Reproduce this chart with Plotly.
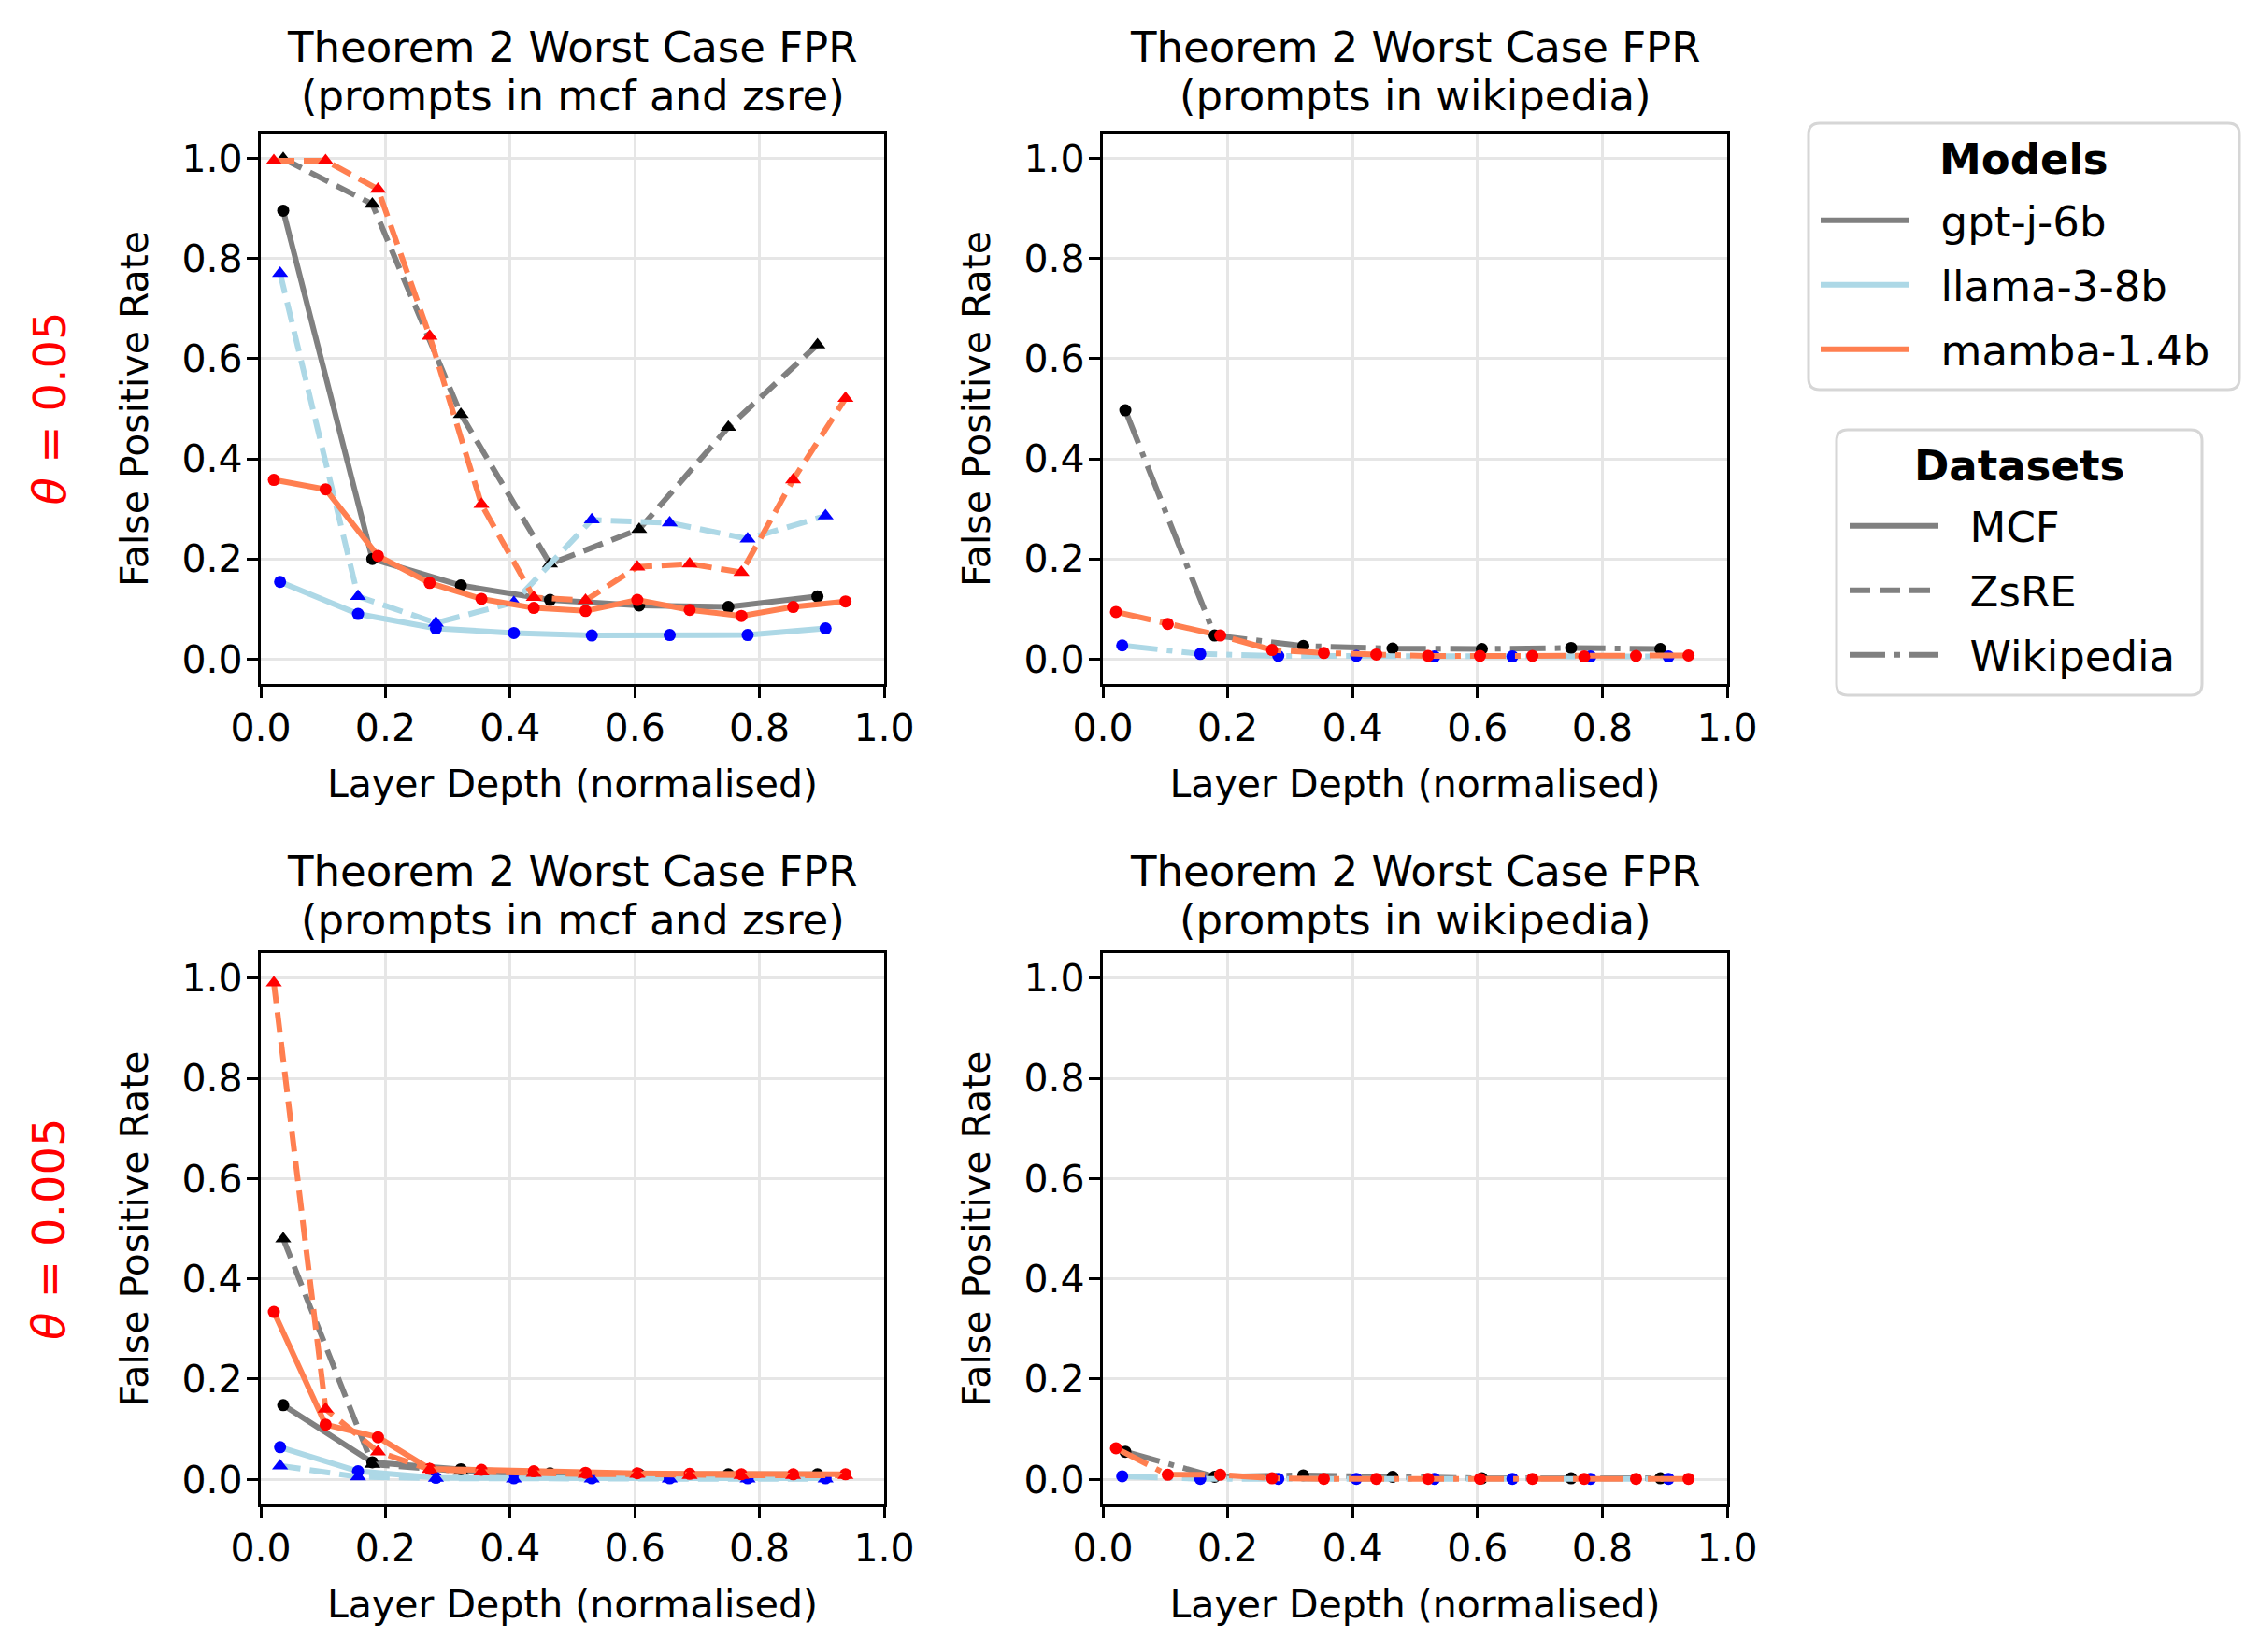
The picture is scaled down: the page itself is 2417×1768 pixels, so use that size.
import plotly.graph_objects as go

# ---------------- data ----------------
gptj_x = [0.036, 0.179, 0.321, 0.464, 0.607, 0.750, 0.893]
llama_x = [0.031, 0.156, 0.281, 0.406, 0.531, 0.656, 0.781, 0.906]
mamba_x = [0.021, 0.104, 0.188, 0.271, 0.354, 0.438, 0.521, 0.604, 0.688, 0.771, 0.854, 0.938]

# theta = 0.05
gptj_mcf_05 = [0.896, 0.200, 0.147, 0.118, 0.107, 0.104, 0.125]
gptj_zsre_05 = [1.000, 0.909, 0.489, 0.190, 0.259, 0.463, 0.628]
gptj_wiki_05 = [0.497, 0.047, 0.026, 0.021, 0.020, 0.022, 0.020]
llama_mcf_05 = [0.154, 0.090, 0.061, 0.052, 0.047, 0.048, 0.048, 0.061]
llama_zsre_05 = [0.771, 0.125, 0.072, 0.113, 0.278, 0.272, 0.240, 0.286]
llama_wiki_05 = [0.027, 0.010, 0.006, 0.006, 0.005, 0.005, 0.005, 0.005]
mamba_mcf_05 = [0.358, 0.339, 0.206, 0.152, 0.120, 0.102, 0.096, 0.118, 0.098, 0.086, 0.104, 0.115]
mamba_zsre_05 = [0.996, 0.996, 0.939, 0.645, 0.309, 0.123, 0.117, 0.184, 0.190, 0.173, 0.358, 0.521]
mamba_wiki_05 = [0.094, 0.070, 0.047, 0.018, 0.012, 0.009, 0.006, 0.006, 0.006, 0.005, 0.006, 0.007]

# theta = 0.005
gptj_mcf_005 = [0.148, 0.034, 0.020, 0.012, 0.010, 0.010, 0.010]
gptj_zsre_005 = [0.480, 0.030, 0.016, 0.010, 0.008, 0.006, 0.006]
gptj_wiki_005 = [0.055, 0.005, 0.008, 0.005, 0.002, 0.002, 0.002]
llama_mcf_005 = [0.064, 0.016, 0.003, 0.002, 0.002, 0.002, 0.002, 0.002]
llama_zsre_005 = [0.027, 0.005, 0.002, 0.001, 0.001, 0.001, 0.001, 0.001]
llama_wiki_005 = [0.006, 0.001, 0.001, 0.001, 0.001, 0.001, 0.001, 0.001]
mamba_mcf_005 = [0.334, 0.109, 0.084, 0.021, 0.019, 0.016, 0.013, 0.012, 0.011, 0.010, 0.010, 0.010]
mamba_zsre_005 = [0.991, 0.140, 0.055, 0.020, 0.015, 0.012, 0.010, 0.010, 0.008, 0.008, 0.008, 0.008]
mamba_wiki_005 = [0.062, 0.009, 0.009, 0.002, 0.001, 0.001, 0.001, 0.001, 0.001, 0.001, 0.001, 0.001]

models = ["gpt-j-6b", "llama-3-8b", "mamba-1.4b"]
datasets = ["MCF", "ZsRE", "Wikipedia"]
tick_vals = [0.0, 0.2, 0.4, 0.6, 0.8, 1.0]
tick_text = ["0.0", "0.2", "0.4", "0.6", "0.8", "1.0"]
thetas = ["0.05", "0.005"]
title_line1 = "Theorem 2 Worst Case FPR"
title_left = "(prompts in mcf and zsre)"
title_right = "(prompts in wikipedia)"
x_label = "Layer Depth (normalised)"
y_label = "False Positive Rate"
legend_titles = ["Models", "Datasets"]

# ---------------- styles ----------------
W, H = 2417, 1768
OFF = 8  # page body margin compensation
FONT = "DejaVu Sans"
line_col = {"gpt-j-6b": "#808080", "llama-3-8b": "#ADD8E6", "mamba-1.4b": "#FF7F50"}
mark_col = {"gpt-j-6b": "#000000", "llama-3-8b": "#0000FF", "mamba-1.4b": "#FF0000"}
xs = {"gpt-j-6b": gptj_x, "llama-3-8b": llama_x, "mamba-1.4b": mamba_x}
LW = 6
dash_of = {"MCF": "solid", "ZsRE": "22px,10px", "Wikipedia": "38px,10px,6px,10px"}
sym_of = {"MCF": "circle", "ZsRE": "triangle-up", "Wikipedia": "circle"}
size_of = {"MCF": 13, "ZsRE": 15, "Wikipedia": 13}

panel_data = [
    ("", [("gpt-j-6b", "MCF", gptj_mcf_05), ("gpt-j-6b", "ZsRE", gptj_zsre_05),
          ("llama-3-8b", "MCF", llama_mcf_05), ("llama-3-8b", "ZsRE", llama_zsre_05),
          ("mamba-1.4b", "MCF", mamba_mcf_05), ("mamba-1.4b", "ZsRE", mamba_zsre_05)]),
    ("2", [("gpt-j-6b", "Wikipedia", gptj_wiki_05), ("llama-3-8b", "Wikipedia", llama_wiki_05),
           ("mamba-1.4b", "Wikipedia", mamba_wiki_05)]),
    ("3", [("gpt-j-6b", "MCF", gptj_mcf_005), ("gpt-j-6b", "ZsRE", gptj_zsre_005),
           ("llama-3-8b", "MCF", llama_mcf_005), ("llama-3-8b", "ZsRE", llama_zsre_005),
           ("mamba-1.4b", "MCF", mamba_mcf_005), ("mamba-1.4b", "ZsRE", mamba_zsre_005)]),
    ("4", [("gpt-j-6b", "Wikipedia", gptj_wiki_005), ("llama-3-8b", "Wikipedia", llama_wiki_005),
           ("mamba-1.4b", "Wikipedia", mamba_wiki_005)]),
]

def fx(p):
    return (p - OFF) / W

def fy(p):
    return 1 - (p - OFF) / H

fig = go.Figure()
for suf, series in panel_data:
    for model, ds, vals in series:
        fig.add_trace(go.Scatter(
            x=xs[model], y=vals, mode="lines+markers",
            xaxis="x" + suf, yaxis="y" + suf, showlegend=False,
            line=dict(color=line_col[model], width=LW, dash=dash_of[ds]),
            marker=dict(color=mark_col[model], size=size_of[ds], symbol=sym_of[ds],
                        line=dict(width=0)),
            hoverinfo="skip"))

# ---------------- legends (one legend per entry for exact spacing) ----------------
SP = "\u00a0\u00a0"
legend_entries = (
    [(m, line_col[m], "solid") for m in models]
    + [(d, "#808080", dash_of[d]) for d in datasets]
)
# (line start x, item centre y) in page pixels
models_line_x, datasets_line_x = 1951, 1982
entry_pos = [(models_line_x, 236), (models_line_x, 305), (models_line_x, 374),
             (datasets_line_x, 563), (datasets_line_x, 632), (datasets_line_x, 701)]

layout_legends = {}
for k, ((name, col, dash), (lx, ly)) in enumerate(zip(legend_entries, entry_pos)):
    key = "legend" if k == 0 else "legend%d" % (k + 1)
    fig.add_trace(go.Scatter(x=[None], y=[None], mode="lines", name=SP + name, legend=key,
                             line=dict(color=col, width=LW, dash=dash)))
    layout_legends[key] = dict(
        x=fx(lx - 8), y=fy(ly), xanchor="left", yanchor="middle",
        bgcolor="rgba(0,0,0,0)", borderwidth=0, itemwidth=95,
        font=dict(family=FONT, size=45, color="black"))

# ---------------- layout ----------------
xdom = [[fx(279), fx(946)], [fx(1180), fx(1848)]]
ydom = [[fy(732), fy(143)], [fy(1610), fy(1020)]]

axis_common = dict(
    range=[0, 1], tickmode="array", tickvals=tick_vals, ticktext=tick_text,
    ticks="outside", ticklen=12, tickwidth=3.3, tickcolor="black",
    showline=True, linewidth=3.3, linecolor="black", mirror=True,
    showgrid=True, gridcolor="#e6e6e6", gridwidth=3, zeroline=False,
    tickfont=dict(family=FONT, size=41, color="black"), automargin=False,
)

layout = dict(
    width=W, height=H, margin=dict(l=0, r=0, t=0, b=0, autoexpand=False),
    paper_bgcolor="white", plot_bgcolor="white",
    font=dict(family=FONT, color="black"),
)
layout.update(layout_legends)
for i, suf in enumerate(["", "2", "3", "4"]):
    col, row = i % 2, i // 2
    xa = dict(axis_common)
    xa.update(domain=xdom[col], anchor="y" + suf, ticklabelstandoff=-3,
              title=dict(text=x_label, font=dict(family=FONT, size=41), standoff=22))
    ya = dict(axis_common)
    ya.update(domain=ydom[row], anchor="x" + suf, range=[-0.05, 1.05], ticklabelstandoff=-4,
              title=dict(text=y_label, font=dict(family=FONT, size=41), standoff=24))
    layout["xaxis" + suf] = xa
    layout["yaxis" + suf] = ya

# legend frames (rounded boxes)
def rounded_box(x0, y0, x1, y1, r=12):
    X0, X1 = fx(x0), fx(x1)
    Y0, Y1 = fy(y0), fy(y1)  # Y0 top, Y1 bottom
    rx, ry = r / W, r / H
    return (f"M{X0 + rx},{Y0} L{X1 - rx},{Y0} Q{X1},{Y0} {X1},{Y0 - ry} "
            f"L{X1},{Y1 + ry} Q{X1},{Y1} {X1 - rx},{Y1} L{X0 + rx},{Y1} "
            f"Q{X0},{Y1} {X0},{Y1 + ry} L{X0},{Y0 - ry} Q{X0},{Y0} {X0 + rx},{Y0} Z")

boxes = [(1935, 132, 2396, 417, 170), (1965, 460, 2356, 744, 498)]
shapes = []
annotations = []
for (x0, y0, x1, y1, ty), ttl in zip(boxes, legend_titles):
    shapes.append(dict(type="path", path=rounded_box(x0, y0, x1, y1), xref="paper",
                       yref="paper", line=dict(color="#d6d6d6", width=3),
                       fillcolor="white", layer="below"))
    annotations.append(dict(x=fx((x0 + x1) / 2), y=fy(ty), xref="paper", yref="paper",
                            text="<b>" + ttl + "</b>", showarrow=False, xanchor="center",
                            yanchor="middle", font=dict(family=FONT, size=45)))
layout["shapes"] = shapes

title_rows = [(50, 102), (932, 984)]
for row in range(2):
    for col in range(2):
        cx = (xdom[col][0] + xdom[col][1]) / 2
        y1, y2 = title_rows[row]
        annotations.append(dict(x=cx, y=fy(y1), xref="paper", yref="paper",
                                text=title_line1, showarrow=False, xanchor="center",
                                yanchor="middle", font=dict(family=FONT, size=45)))
        annotations.append(dict(x=cx, y=fy(y2), xref="paper", yref="paper",
                                text=title_left if col == 0 else title_right,
                                showarrow=False, xanchor="center", yanchor="middle",
                                font=dict(family=FONT, size=45)))
for row in range(2):
    cy = (ydom[row][0] + ydom[row][1]) / 2
    annotations.append(dict(x=fx(52), y=cy, xref="paper", yref="paper",
                            text="<i>θ</i> = " + thetas[row], textangle=-90, showarrow=False,
                            xanchor="center", yanchor="middle",
                            font=dict(family=FONT, size=48, color="red")))
layout["annotations"] = annotations

fig.update_layout(**layout)
fig.write_html("out.html")
